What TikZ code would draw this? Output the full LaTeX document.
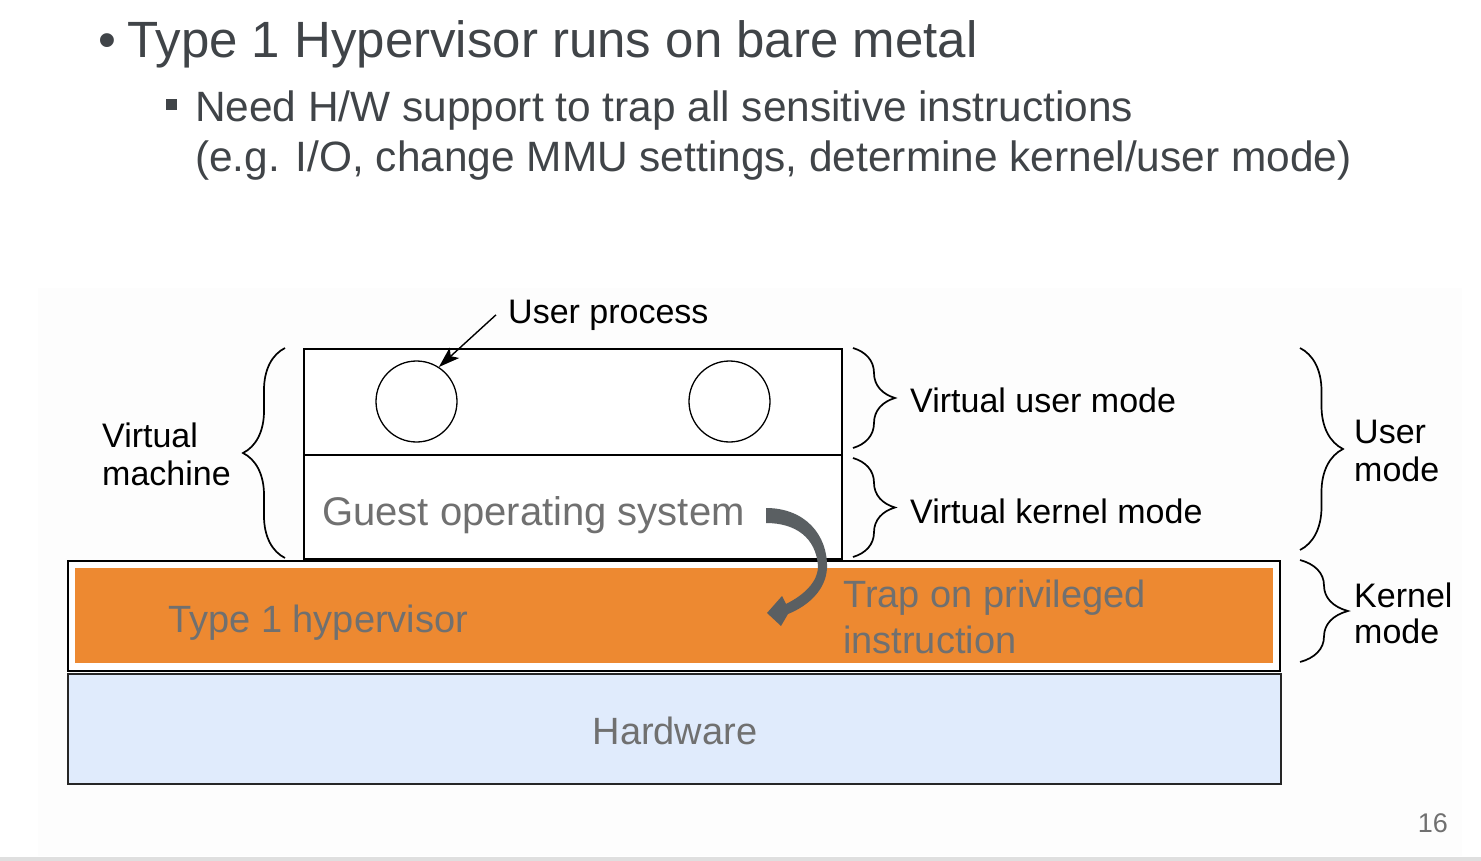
\documentclass[tikz,border=0pt]{standalone}
\usepackage{fontspec}
\setmainfont{Liberation Sans}
\usetikzlibrary{decorations.pathreplacing,arrows.meta}
\definecolor{titlegray}{HTML}{404448}
\definecolor{boxgray}{HTML}{707070}
\definecolor{hvorange}{HTML}{ED8931}
\definecolor{hwblue}{HTML}{E0EBFC}
\definecolor{arrowgray}{HTML}{5A5F62}
\definecolor{imgbg}{HTML}{FDFDFD}
\begin{document}
\begin{tikzpicture}[x=1pt,y=-1pt,
  txt/.style={inner sep=0pt, anchor=base west},
  ttl/.style={txt, text=titlegray, font=\fontsize{51}{60}\selectfont},
  sub/.style={txt, text=titlegray, font=\fontsize{42.4}{50}\selectfont},
  lbl/.style={txt, text=black, font=\fontsize{34}{40}\selectfont},
  inbox/.style={txt, text=boxgray, font=\fontsize{38}{46}\selectfont},
  layer/.style={draw=black, line width=1.8pt, anchor=north west, inner sep=0pt},
  brc/.style={decorate, decoration={brace, amplitude=#1}, line width=1.7pt},
  proc/.style={circle, draw=black, line width=1.3pt, minimum size=81pt, inner sep=0pt}]
\useasboundingbox (0,0) rectangle (1481,861);
\fill[white] (0,0) rectangle (1481,861);
\fill[imgbg] (38,288) rectangle (1462,856);
\fill[gray!25] (0,857) rectangle (1481,861);

% slide text
\node[ttl] (b1) at (98,58) {•};
\node[ttl] (t1) at (127,58) {Type 1 Hypervisor runs on bare metal};
\fill[titlegray] (166,99) rectangle (177,110);
\node[sub] (t2) at (195,122) {Need H/W support to trap all sensitive instructions};
\node[sub] (t3) at (195,172) {(e.g. I/O, change MMU settings, determine kernel/user mode)};
\node[txt, anchor=base east, text=boxgray, font=\fontsize{27}{32}\selectfont] (pg) at (1448,832) {16};

% layers
\node[layer, fill=white, minimum width=538pt, minimum height=106pt] (vu) at (303,348) {};
\node[layer, fill=white, minimum width=538pt, minimum height=104pt] (vk) at (303,454) {};
\node[layer, fill=white, minimum width=1212pt, minimum height=110pt] (hv) at (67,560) {};
\node[anchor=north west, fill=hvorange, inner sep=0pt, minimum width=1198pt, minimum height=95pt] (hvin) at (75,568) {};
\node[layer, draw=black!85, fill=hwblue, minimum width=1213pt, minimum height=110pt] (hw) at (67,673) {};

% processes
\node[proc] (c1) at (416.5,401.5) {};
\node[proc] (c2) at (729.5,401.5) {};
\node[lbl] (up) at (508,323) {User process};
\draw[line width=1.4pt, -{Stealth[length=21pt,width=14pt,inset=5pt]}] ([xshift=-12pt]up.west) -- (c1.57);

% box texts
\node[inbox, font=\fontsize{40}{48}\selectfont] (gos) at (322,525) {Guest operating system};
\node[inbox] (thv) at (168,632) {Type 1 hypervisor};
\node[inbox] (tr1) at (843,607) {Trap on privileged};
\node[inbox] (tr2) at (843,653) {instruction};
\node[inbox, anchor=base] (hwt) at (675,744) {Hardware};

% trap arrow
\fill[arrowgray] (766,508) .. controls (805,508) and (828,535) .. (827,568)
  .. controls (826,590) and (808,606) .. (788,614) -- (781,626) -- (767,613)
  -- (782,596) -- (786,604) .. controls (804,595) and (818,582) .. (818,566)
  .. controls (816,538) and (796,523) .. (766,523) -- cycle;

% braces and labels
\draw[brc=42pt] (285,558) -- (285,348);
\node[lbl] (vm1) at (102,447) {Virtual};
\node[lbl] (vm2) at (102,485) {machine};
\draw[brc=42pt] (853,348) -- (853,448);
\node[lbl] (vum) at (910,412) {Virtual user mode};
\draw[brc=42pt] (853,458) -- (853,557);
\node[lbl] (vkm) at (910,523) {Virtual kernel mode};
\draw[brc=43pt] (1300,348) -- (1300,550);
\node[lbl] (um1) at (1354,443) {User};
\node[lbl] (um2) at (1354,481) {mode};
\draw[brc=48pt] (1300,560) -- (1300,662);
\node[lbl] (km1) at (1354,607) {Kernel};
\node[lbl] (km2) at (1354,643) {mode};
\end{tikzpicture}
\end{document}
